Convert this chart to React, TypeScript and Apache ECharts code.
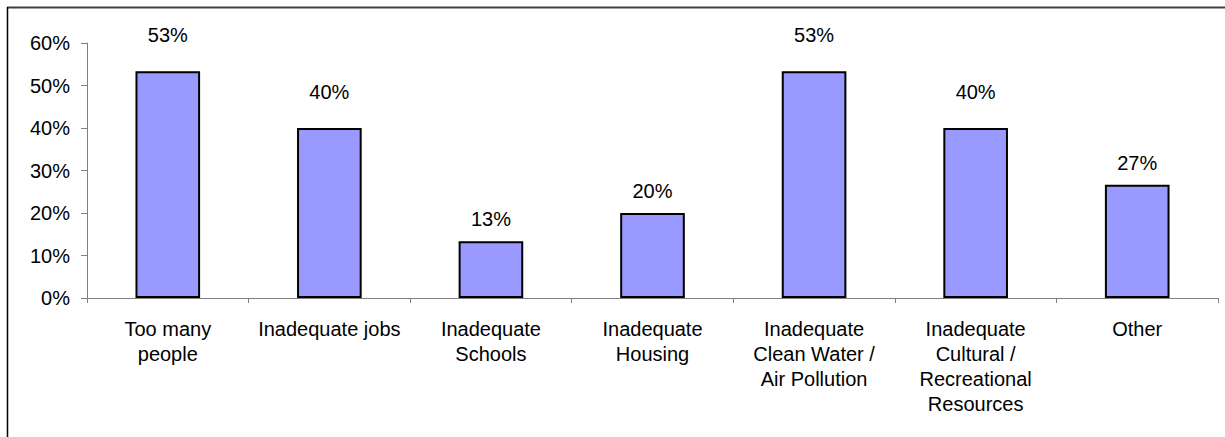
import React, { useEffect, useRef } from "react";
import * as echarts from "echarts";

const categories = [
  "Too many\npeople",
  "Inadequate jobs",
  "Inadequate\nSchools",
  "Inadequate\nHousing",
  "Inadequate\nClean Water /\nAir Pollution",
  "Inadequate\nCultural /\nRecreational\nResources",
  "Other",
];
const values = [53.33, 40, 13.33, 20, 53.33, 40, 26.67];
const yTicks = [0, 10, 20, 30, 40, 50, 60];

const FONT = "'Liberation Sans', Arial, sans-serif";

export default function App() {
  const ref = useRef<HTMLDivElement>(null);
  useEffect(() => {
    if (!ref.current) return;
    const chart = echarts.init(ref.current, undefined, { renderer: "svg" });
    chart.setOption({
      animation: false,
      backgroundColor: "#ffffff",
      textStyle: { fontFamily: FONT },
      grid: { left: 87, right: 7, top: 43, bottom: 139, containLabel: false },
      xAxis: {
        type: "category",
        data: categories,
        boundaryGap: true,
        axisLine: { lineStyle: { color: "#808080", width: 1 } },
        axisTick: { show: true, length: 5, alignWithLabel: false, lineStyle: { color: "#808080" } },
        axisLabel: {
          interval: 0,
          color: "#000",
          fontSize: 20,
          fontFamily: FONT,
          lineHeight: 25,
          margin: 18,
        },
      },
      yAxis: {
        type: "value",
        min: yTicks[0],
        max: yTicks[yTicks.length - 1],
        interval: 10,
        splitLine: { show: false },
        axisLine: { show: true, lineStyle: { color: "#808080", width: 1 } },
        axisTick: { show: true, length: 6, lineStyle: { color: "#808080" } },
        axisLabel: {
          color: "#000",
          fontSize: 20,
          fontFamily: FONT,
          margin: 17,
          formatter: (v: number) => v + "%",
        },
      },
      series: [
        {
          type: "bar",
          barWidth: "40%",
          data: values.map((v) => ({
            value: v,
            label: { distance: v > 30 ? 26 : 12 },
          })),
          itemStyle: { color: "#9999FF", borderColor: "#000000", borderWidth: 2 },
          label: {
            show: true,
            position: "top",
            color: "#000",
            fontSize: 20,
            fontFamily: FONT,
            formatter: (p: any) => Math.round(p.value) + "%",
          },
        },
      ],
      graphic: [
        {
          type: "line",
          shape: { x1: 7, y1: 7.5, x2: 1225, y2: 7.5 },
          style: { stroke: "#404040", lineWidth: 2 },
        },
        {
          type: "line",
          shape: { x1: 7.5, y1: 7, x2: 7.5, y2: 437 },
          style: { stroke: "#000000", lineWidth: 1.5 },
        },
      ],
    });
    return () => chart.dispose();
  }, []);
  return (
    <div
      ref={ref}
      style={{ position: "fixed", left: 0, top: 0, width: 1225, height: 437 }}
    />
  );
}
